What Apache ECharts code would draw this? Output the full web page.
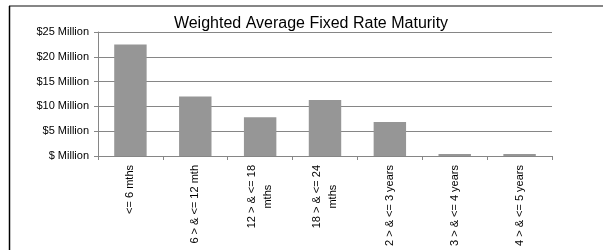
<!DOCTYPE html>
<html>
<head>
<meta charset="utf-8">
<script src="https://cdn.jsdelivr.net/npm/echarts@6/dist/echarts.min.js"></script>
<style>
html,body{margin:0;padding:0;background:#fff;}
#c{width:603px;height:250px;}
</style>
</head>
<body>
<div id="c"></div>
<script>
var titleText = 'Weighted Average Fixed Rate Maturity';
var categories = ['<= 6 mths', '6 > & <= 12 mth', '12 > & <= 18\nmths', '18 > & <= 24\nmths', '2 > & <= 3 years', '3 > & <= 4 years', '4 > & <= 5 years'];
var valuesMillions = [22.5, 12.0, 7.8, 11.3, 6.85, 0.4, 0.4];
var yMin = 0, yMax = 25, yStep = 5;

var font = 'Liberation Sans';
var chart = echarts.init(document.getElementById('c'), null, {renderer: 'canvas'});
chart.setOption({
  animation: false,
  backgroundColor: '#fff',
  title: {
    text: titleText,
    left: 306, top: 11, textAlign: 'center',
    textStyle: {fontFamily: font, fontSize: 16, fontWeight: 'normal', color: '#000'}
  },
  grid: {left: 98, right: 51, top: 32, bottom: 94, containLabel: false},
  xAxis: {
    type: 'category',
    data: categories,
    axisLine: {lineStyle: {color: '#868686', width: 1}},
    axisTick: {show: true, alignWithLabel: false, length: 4, lineStyle: {color: '#868686'}},
    axisLabel: {
      rotate: 90, interval: 0, margin: 9,
      fontFamily: font, fontSize: 11, color: '#000',
      formatter: function (v) {
        var parts = v.split('\n');
        return parts.map(function (p, i) { return '{' + (i === 0 ? 'a' : 'b') + '|' + p + '}'; }).join('\n');
      },
      rich: {
        a: {fontFamily: font, fontSize: 11, color: '#000', lineHeight: 16},
        b: {fontFamily: font, fontSize: 11, color: '#000', lineHeight: 16, align: 'center'}
      }
    }
  },
  yAxis: {
    type: 'value',
    min: yMin, max: yMax, interval: yStep,
    axisLine: {show: true, lineStyle: {color: '#868686', width: 1}},
    axisTick: {show: true, length: 4, lineStyle: {color: '#868686'}},
    splitLine: {show: true, lineStyle: {color: '#868686', width: 1}},
    axisLabel: {
      margin: 9, fontFamily: font, fontSize: 11, color: '#000',
      formatter: function (v) { return '$' + (v === 0 ? '' : v) + ' Million'; }
    }
  },
  series: [{
    type: 'bar',
    data: valuesMillions,
    barWidth: '50%',
    itemStyle: {color: '#969696', borderColor: '#a6a6a6', borderWidth: 0}
  }],
  graphic: [
    {type: 'line', shape: {x1: 9, y1: 6, x2: 603, y2: 6}, style: {stroke: '#868686', lineWidth: 2}, silent: true},
    {type: 'line', shape: {x1: 9.5, y1: 6, x2: 9.5, y2: 250}, style: {stroke: '#000', lineWidth: 1.5}, silent: true}
  ]
});
</script>
</body>
</html>
